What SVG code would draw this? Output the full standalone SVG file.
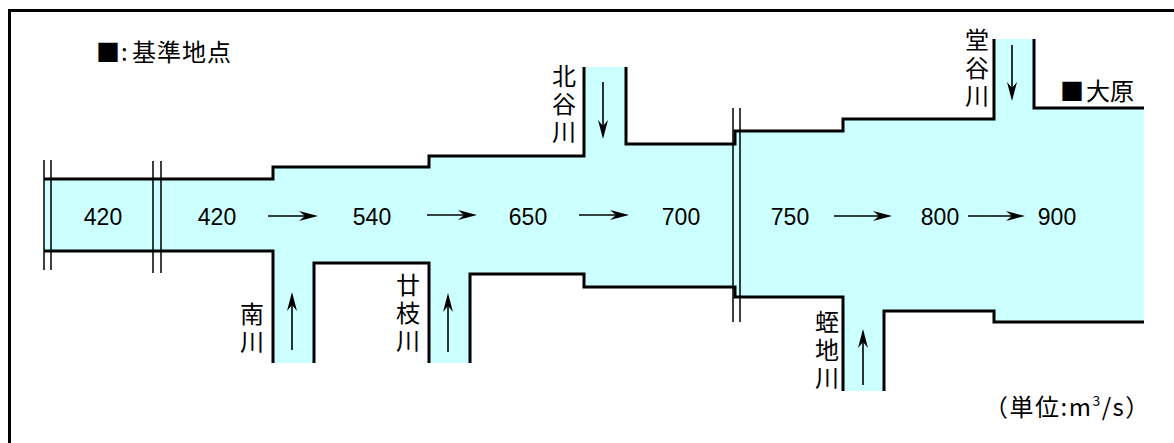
<svg xmlns="http://www.w3.org/2000/svg" width="1174" height="443" viewBox="0 0 1174 443">
<style>
.river{fill:#ccffff;stroke:none}
.bank{fill:none;stroke:#000;stroke-width:3;stroke-linecap:butt;stroke-linejoin:miter}
.brk{stroke:#000;stroke-width:1.5}
.num{font-family:"Liberation Sans",Arial,sans-serif;font-size:23px;fill:#000;text-anchor:middle}
.jp{font-family:"Noto Sans CJK JP","Noto Sans CJK SC",sans-serif;font-size:24px;fill:#000}
.vl{writing-mode:vertical-rl;text-orientation:upright;letter-spacing:4px}
.flow{stroke:#000;stroke-width:1.6;fill:none}
</style>
<defs>
<marker id="ah" viewBox="-17 -6 21 12" refX="0" refY="0" markerWidth="21" markerHeight="12" markerUnits="userSpaceOnUse" orient="auto">
<path d="M3,0 L-16,-5 L-10,0 L-16,5 Z" fill="#000"/>
</marker>
</defs>
<rect x="0" y="0" width="1174" height="443" fill="#fff"/>
<rect x="9.5" y="10.5" width="1300" height="600" fill="none" stroke="#000" stroke-width="3"/>

<g id="channel">
<path class="river" d="M44,179 H273 V167 H429 V156 H584 V67 H626 V144 H735 V131 H843 V119 H994 V39 H1034 V108 H1144 V322 H994 V311 H884 V391 H843 V297 H735 V287 H584 V274 H470 V363 H429 V263 H314 V363 H273 V251 H44 Z"/>
<path class="bank" d="M44,179 H273 V167 H429 V156 H584 V67 M626,67 V144 H735 V131 H843 V119 H994 V39 M1034,39 V108 H1144"/>
<path class="bank" d="M44,251 H273 V363 M314,363 V263 H429 V363 M470,363 V274 H584 V287 H735 V297 H843 V391 M884,391 V311 H994 V322 H1144"/>
<path class="brk" d="M44,160 V270 M51,160 V270 M153,161 V273 M161,161 V273 M733,108 V322 M740,108 V322"/>
</g>

<g id="legend">
<text class="jp" y="61"><tspan x="96">■</tspan><tspan x="121">:</tspan><tspan x="132" letter-spacing="1">基準地点</tspan></text>
</g>

<g id="seg-420a"><text class="num" x="103" y="225">420</text></g>
<g id="seg-420b"><text class="num" x="217" y="225">420</text></g>
<g id="seg-540"><text class="num" x="372" y="225">540</text></g>
<g id="seg-650"><text class="num" x="528" y="225">650</text></g>
<g id="seg-700"><text class="num" x="681" y="225">700</text></g>
<g id="seg-750"><text class="num" x="790" y="225">750</text></g>
<g id="seg-800"><text class="num" x="940" y="225">800</text></g>
<g id="seg-900"><text class="num" x="1057" y="225">900</text></g>

<g id="minami"><text class="jp vl" x="252" y="302">南川</text></g>
<g id="tsuzue"><text class="jp vl" x="408" y="273">廿枝川</text></g>
<g id="kitadani"><text class="jp vl" x="564" y="64">北谷川</text></g>
<g id="dodani"><text class="jp vl" x="977" y="28">堂谷川</text></g>
<g id="hirumichi"><text class="jp vl" x="827" y="310" letter-spacing="5">蛭地川</text></g>
<g id="ohara">
<text class="jp" y="100"><tspan x="1060">■</tspan><tspan x="1086">大原</tspan></text>
</g>
<g id="unit">
<text class="jp" y="416" font-size="25" letter-spacing="1.5"><tspan x="984">（単位:m</tspan><tspan font-size="14" dy="-10">3</tspan><tspan dy="10">/s）</tspan></text>
</g>

<g id="connectors">
<line class="flow" x1="268" y1="216" x2="315" y2="216" marker-end="url(#ah)"/>
<line class="flow" x1="427" y1="215" x2="474" y2="215" marker-end="url(#ah)"/>
<line class="flow" x1="579" y1="215" x2="626" y2="215" marker-end="url(#ah)"/>
<line class="flow" x1="834" y1="216" x2="889" y2="216" marker-end="url(#ah)"/>
<line class="flow" x1="968" y1="216" x2="1022" y2="216" marker-end="url(#ah)"/>
<line class="flow" x1="292" y1="350" x2="292" y2="295" marker-end="url(#ah)"/>
<line class="flow" x1="448" y1="352" x2="448" y2="296" marker-end="url(#ah)"/>
<line class="flow" x1="603" y1="82" x2="603" y2="136" marker-end="url(#ah)"/>
<line class="flow" x1="1012" y1="45" x2="1012" y2="98" marker-end="url(#ah)"/>
<line class="flow" x1="863" y1="385" x2="863" y2="332" marker-end="url(#ah)"/>
</g>
</svg>
